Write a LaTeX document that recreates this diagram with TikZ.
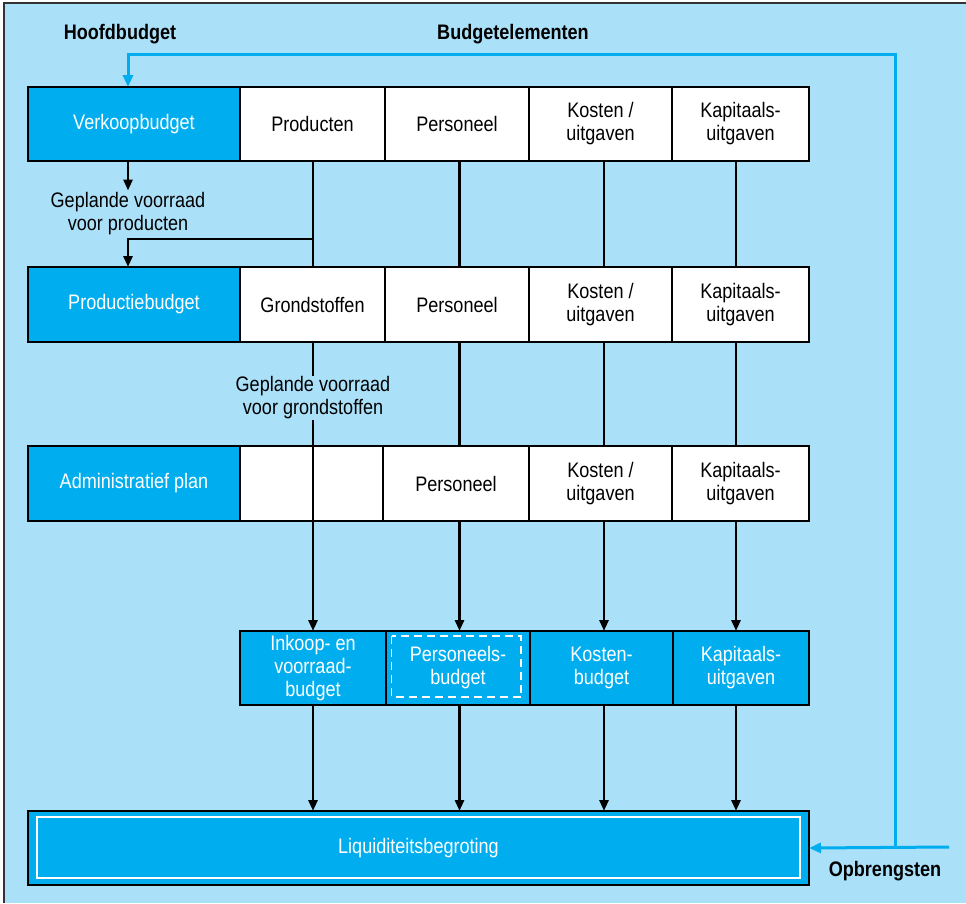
\documentclass[tikz,border=0pt]{standalone}
\usepackage{fontspec}
\setmainfont[FakeStretch=0.86]{Liberation Sans}
\usetikzlibrary{arrows.meta,calc}
\definecolor{bgblue}{RGB}{171,224,249}
\definecolor{cyanb}{RGB}{0,174,239}
\begin{document}
\begin{tikzpicture}[x=1pt,y=-1pt,
  txt/.style={font=\fontsize{21}{23}\selectfont, align=center, inner sep=2pt},
  cell/.style={txt, draw=black, line width=1.6pt, fill=white, inner sep=0pt, outer sep=0pt, anchor=north west},
  headcell/.style={cell, fill=cyanb, text=white},
  boldlbl/.style={font=\fontsize{21}{23}\selectfont\bfseries, inner sep=0pt},
  ln/.style={line width=2.8pt, black},
  ar/.style={ln, -{Triangle[length=11pt,width=9pt]}},
  bl/.style={line width=3pt, cyanb},
  blar/.style={bl, -{Triangle[length=12pt,width=10pt]}}
]
\useasboundingbox (0,0) rectangle (966,903);
\fill[bgblue] (4,3) rectangle (966,903);
\draw[line width=2pt, black!80] (4,903) -- (4,3) -- (966,3);

% labels
\node[boldlbl] (hb) at (120,34) {Hoofdbudget};
\node[boldlbl] (be) at (513,34) {Budgetelementen};
\node[boldlbl] (ob) at (885,871) {Opbrengsten};

% row 1
\node[headcell, minimum width=212pt, minimum height=74pt] (V1) at (28,87) {Verkoopbudget};
\node[cell, minimum width=145pt, minimum height=74pt] (P1) at (240,87) {Producten};
\node[cell, minimum width=144pt, minimum height=74pt] (Pe1) at (385,87) {Personeel};
\node[cell, minimum width=143pt, minimum height=74pt] (K1) at (529,87) {Kosten /\\uitgaven};
\node[cell, minimum width=137pt, minimum height=74pt] (C1) at (672,87) {Kapitaals-\\uitgaven};

% row 2
\node[headcell, minimum width=212pt, minimum height=75pt] (V2) at (28,267) {Productiebudget};
\node[cell, minimum width=145pt, minimum height=75pt] (G2) at (240,267) {Grondstoffen};
\node[cell, minimum width=144pt, minimum height=75pt] (Pe2) at (385,267) {Personeel};
\node[cell, minimum width=143pt, minimum height=75pt] (K2) at (529,267) {Kosten /\\uitgaven};
\node[cell, minimum width=137pt, minimum height=75pt] (C2) at (672,267) {Kapitaals-\\uitgaven};

% row 3
\node[headcell, minimum width=212pt, minimum height=75pt] (V3) at (28,446) {Administratief plan};
\node[cell, minimum width=143pt, minimum height=75pt] (E3) at (240,446) {};
\node[cell, minimum width=146pt, minimum height=75pt] (Pe3) at (383,446) {Personeel};
\node[cell, minimum width=143pt, minimum height=75pt] (K3) at (529,446) {Kosten /\\uitgaven};
\node[cell, minimum width=137pt, minimum height=75pt] (C3) at (672,446) {Kapitaals-\\uitgaven};

% row 4
\node[headcell, minimum width=146pt, minimum height=74pt] (B1) at (240,631) {Inkoop- en\\voorraad-\\budget};
\node[headcell, minimum width=144pt, minimum height=74pt] (B2) at (386,631) {Personeels-\\budget};
\node[headcell, minimum width=143pt, minimum height=74pt] (B3) at (530,631) {Kosten-\\budget};
\node[headcell, minimum width=136pt, minimum height=74pt] (B4) at (673,631) {Kapitaals-\\uitgaven};
\draw[white, line width=1.4pt, dash pattern=on 8pt off 5pt]
  ($(B2.north west)+(5.5,5)$) rectangle ($(B2.south east)+(-9,-8)$);

% liquidity
\node[headcell, line width=2pt, minimum width=781pt, minimum height=74pt] (L) at (28,811) {Liquiditeitsbegroting};
\draw[white, line width=1.4pt] ($(L.north west)+(9,6)$) rectangle ($(L.south east)+(-9,-7)$);

% column coordinates
\coordinate (x0) at (128,0);
\coordinate (x1) at (313,0);
\coordinate (x2) at (459.5,0);
\coordinate (x3) at (604,0);
\coordinate (x4) at (736,0);
\coordinate (j1) at (313,239);

% row 1 -> row 2
\node[txt] (lab1) at (128,214) {Geplande voorraad\\voor producten};
\draw[ar] (x0 |- V1.south) -- (lab1.north);
\draw[ln] (x1 |- P1.south) -- (x1 |- G2.north);
\draw[ar] (j1) -| (x0 |- V2.north);
\draw[ln] (x2 |- Pe1.south) -- (x2 |- Pe2.north);
\draw[ln] (x3 |- K1.south) -- (x3 |- K2.north);
\draw[ln] (x4 |- C1.south) -- (x4 |- C2.north);

% row 2 -> row 3 / row 4
\draw[ar] (x1 |- G2.south) -- (x1 |- B1.north);
\node[txt, fill=bgblue, inner sep=1pt] (lab2) at (313,398) {Geplande voorraad\\voor grondstoffen};
\draw[ln] (x2 |- Pe2.south) -- (x2 |- Pe3.north);
\draw[ln] (x3 |- K2.south) -- (x3 |- K3.north);
\draw[ln] (x4 |- C2.south) -- (x4 |- C3.north);

% row 3 -> row 4
\draw[ar] (x2 |- Pe3.south) -- (x2 |- B2.north);
\draw[ar] (x3 |- K3.south) -- (x3 |- B3.north);
\draw[ar] (x4 |- C3.south) -- (x4 |- B4.north);

% row 4 -> liquidity
\draw[ar] (x1 |- B1.south) -- (x1 |- L.north);
\draw[ar] (x2 |- B2.south) -- (x2 |- L.north);
\draw[ar] (x3 |- B3.south) -- (x3 |- L.north);
\draw[ar] (x4 |- B4.south) -- (x4 |- L.north);

% feedback loop
\coordinate (oe) at (949,847);
\coordinate (oj) at (895,847);
\coordinate (ot) at (895,54);
\draw[blar] (oe) -- (L.east);
\draw[blar] (oj) -- (ot) -| (x0 |- V1.north);
\end{tikzpicture}
\end{document}
